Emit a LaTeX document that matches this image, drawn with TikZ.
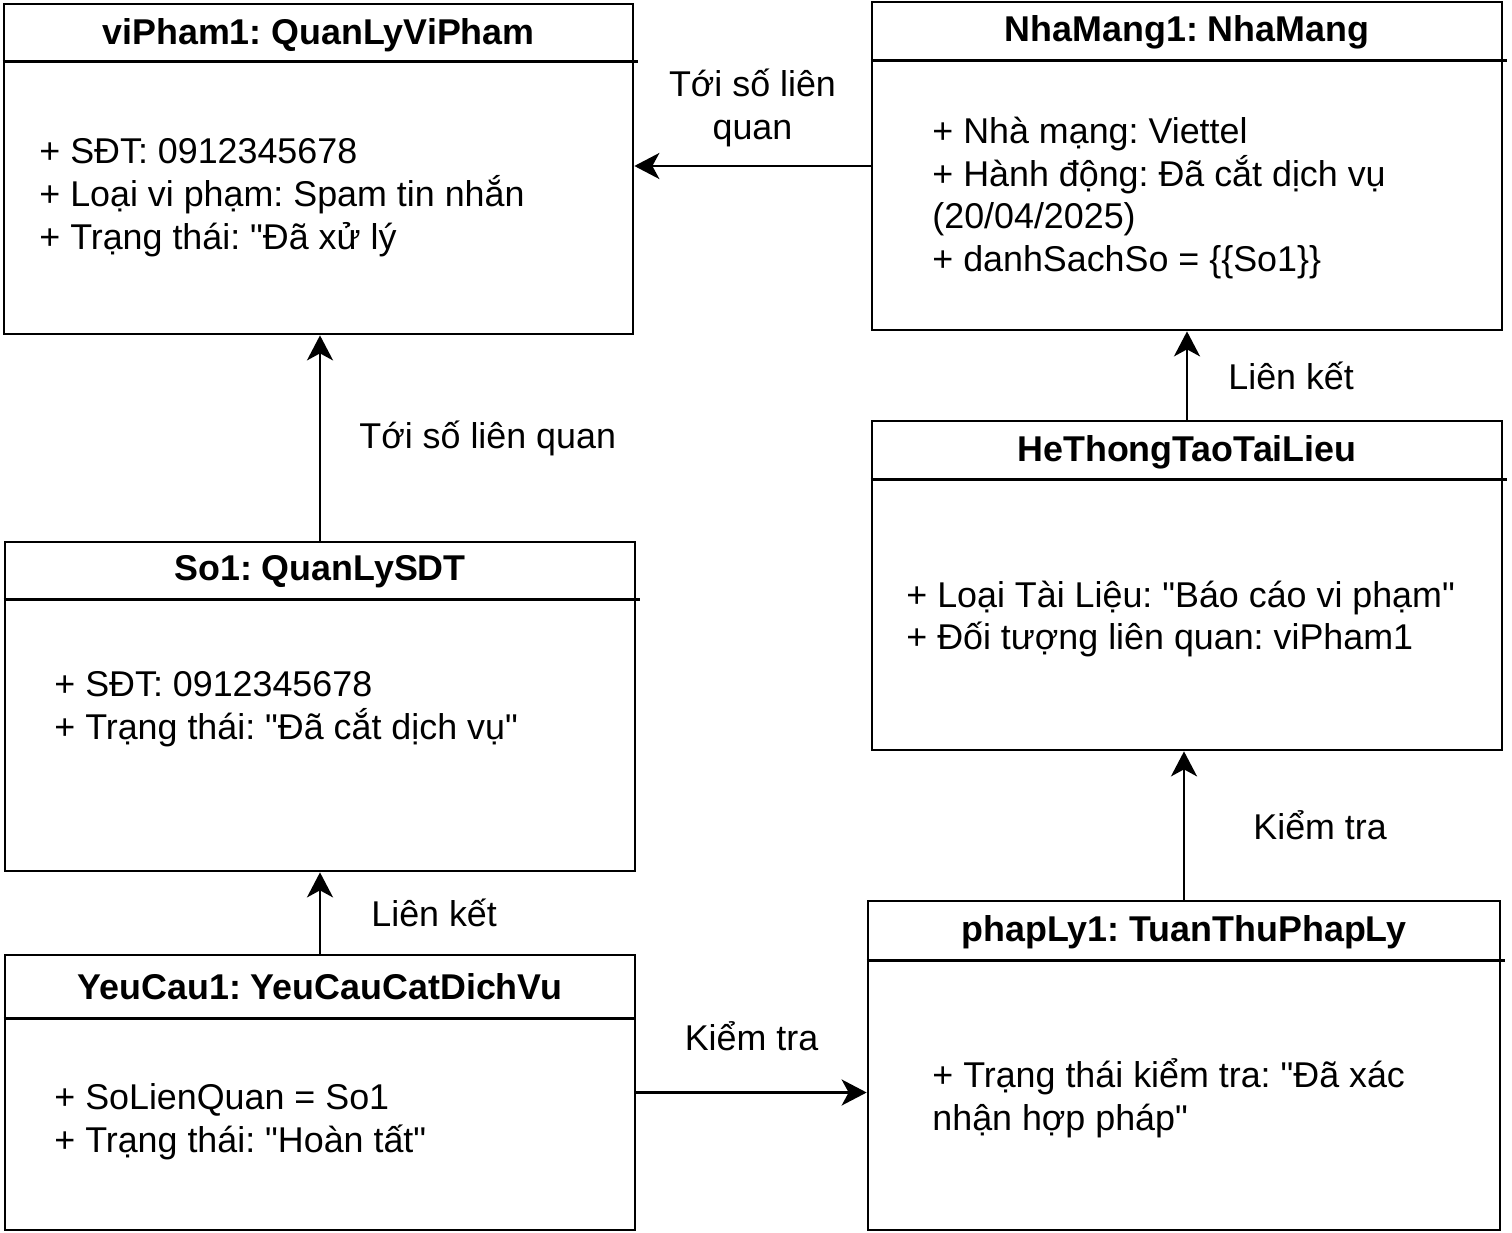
\documentclass[tikz,border=0pt]{standalone}
\usepackage{fontspec}
\setmainfont{Liberation Sans}
\usetikzlibrary{arrows.meta,positioning}
\frenchspacing

\begin{document}
\begin{tikzpicture}[-,>={Stealth[length=0.5cm,width=0.52cm,inset=0.14cm]},x=0.02cm,y=-0.02cm,line width=1.6pt,font=\fontsize{20.4pt}{24.4pt}\selectfont]
  \tikzstyle{obj}=[rectangle,draw,minimum width=12.6cm,inner sep=0pt]
  \tikzstyle{title}=[font=\fontsize{20.4pt}{24.4pt}\selectfont\bfseries,inner sep=0pt]
  \tikzstyle{attr}=[anchor=west,align=left,inner sep=0pt]
  \tikzstyle{lbl}=[align=center,inner sep=0pt]

  \useasboundingbox (0,0) rectangle (1512,1233);

  % objects
  \node[obj,minimum width=12.58cm,minimum height=6.6cm] (viPham) at (318.5,169)    {};
  \node[obj,minimum height=6.56cm]                      (nhaMang) at (1187,166)    {};
  \node[obj,minimum height=6.58cm]                      (so1) at (320,706.5)       {};
  \node[obj,minimum height=6.58cm]                      (heThong) at (1187,585.5)  {};
  \node[obj,minimum height=5.5cm]                       (yeuCau) at (320,1092.5)   {};
  \node[obj,minimum width=12.64cm,minimum height=6.58cm] (phapLy) at (1184,1065.5) {};

  % header lines
  \draw ([yshift=-1.18cm]viPham.north west)  -- ([yshift=-1.18cm,xshift=0.08cm]viPham.north east);
  \draw ([yshift=-1.2cm]nhaMang.north west)  -- ([yshift=-1.2cm,xshift=0.08cm]nhaMang.north east);
  \draw ([yshift=-1.18cm]so1.north west)     -- ([yshift=-1.18cm,xshift=0.08cm]so1.north east);
  \draw ([yshift=-1.2cm]heThong.north west)  -- ([yshift=-1.2cm,xshift=0.08cm]heThong.north east);
  \draw ([yshift=-1.3cm]yeuCau.north west)   -- ([yshift=-1.3cm]yeuCau.north east);
  \draw ([yshift=-1.22cm]phapLy.north west)  -- ([yshift=-1.22cm,xshift=0.08cm]phapLy.north east);

  % titles
  \node[title] (viPhamT)  at (318.5,35) {viPham1: QuanLyViPham};
  \node[title] (nhaMangT) at (1187,32)  {NhaMang1: NhaMang};
  \node[title] (so1T)     at (320,572)  {So1: QuanLySDT};
  \node[title] (heThongT) at (1187,452) {HeThongTaoTaiLieu};
  \node[title] (yeuCauT)  at (320,987)  {YeuCau1: YeuCauCatDichVu};
  \node[title] (phapLyT)  at (1184,932) {phapLy1: TuanThuPhapLy};

  % attributes
  \node[attr] (viPhamA)  at (38,198)   {+ SĐT: 0912345678\\+ Loại vi phạm: Spam tin nhắn\\+ Trạng thái: \textquotedbl Đã xử lý};
  \node[attr] (nhaMangA) at (931,198)  {+ Nhà mạng: Viettel\\+ Hành động: Đã cắt dịch vụ\\(20/04/2025)\\+ danhSachSo = \{\{So1\}\}};
  \node[attr] (so1A)     at (53,709)   {+ SĐT: 0912345678\\+ Trạng thái: \textquotedbl Đã cắt dịch vụ\textquotedbl};
  \node[attr] (heThongA) at (905,619)  {+ Loại Tài Liệu: \textquotedbl Báo cáo vi phạm\textquotedbl\\+ Đối tượng liên quan: viPham1};
  \node[attr] (yeuCauA)  at (53,1122)  {+ SoLienQuan = So1\\+ Trạng thái: \textquotedbl Hoàn tất\textquotedbl};
  \node[attr] (phapLyA)  at (931,1098) {+ Trạng thái kiểm tra: \textquotedbl Đã xác\\nhận hợp pháp\textquotedbl};

  % links
  \draw[->] (nhaMang.west) -- (nhaMang.west -| viPham.east)
    node[lbl,midway,above=0.36cm] (lblToiSo1) {Tới số liên\\quan};
  \draw[->] (so1.north) -- (so1.north |- viPham.south)
    node[lbl,midway,right=0.76cm] (lblToiSo2) {Tới số liên quan};
  \draw[->] (yeuCau.north) -- (so1.south)
    node[lbl,midway,right=1cm] (lblLienKet1) {Liên kết};
  \draw[->] (yeuCau.east) -- (yeuCau.east -| phapLy.west)
    node[lbl,midway,above=0.8cm] (lblKiemTra1) {Kiểm tra};
  \draw[->] (phapLy.north) -- (phapLy.north |- heThong.south)
    node[lbl,midway,right=1.36cm] (lblKiemTra2) {Kiểm tra};
  \draw[->] (heThong.north) -- (nhaMang.south)
    node[lbl,midway,right=0.8cm] (lblLienKet2) {Liên kết};
\end{tikzpicture}
\end{document}
